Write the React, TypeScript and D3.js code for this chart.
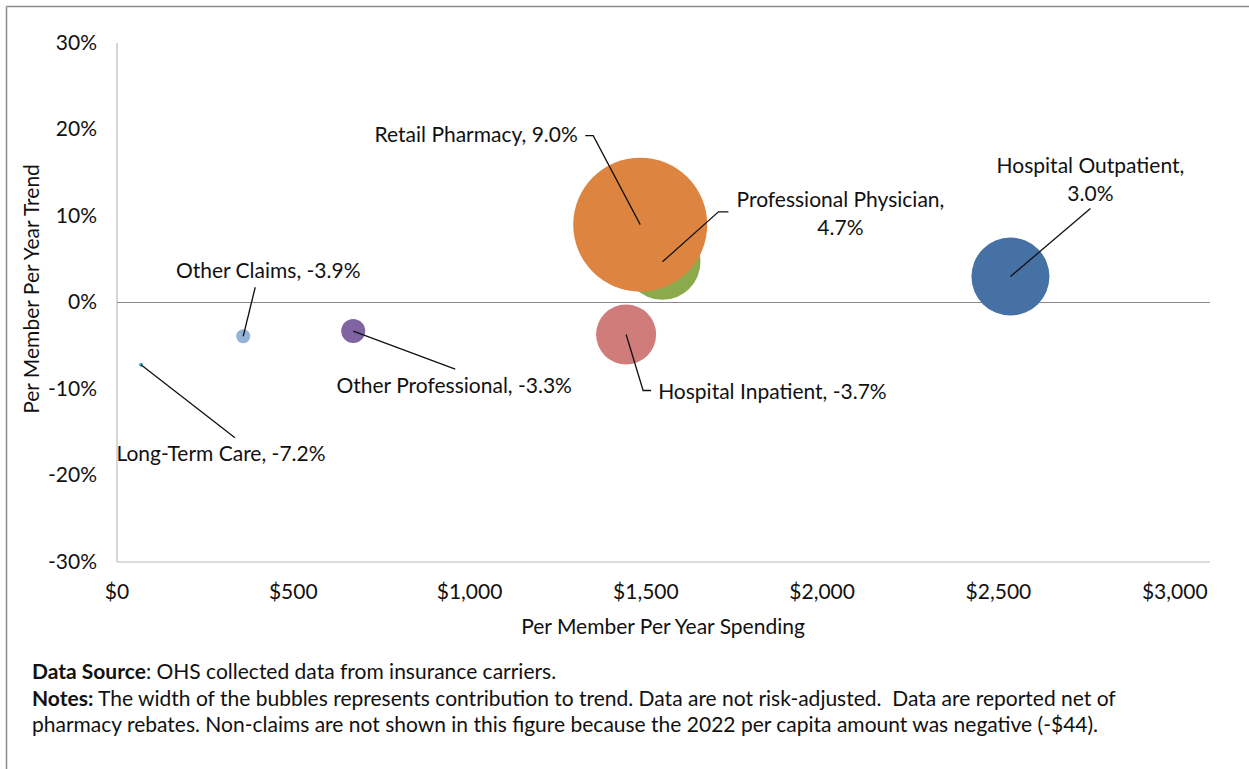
import React from 'react';
import * as d3 from 'd3';

// Service categories and their values
const categories = [
  'Long-Term Care',
  'Other Claims',
  'Other Professional',
  'Hospital Inpatient',
  'Professional Physician',
  'Retail Pharmacy',
  'Hospital Outpatient',
];
const spending = [68, 358, 670, 1444, 1547, 1484, 2534]; // per member per year, $
const trend = [-7.2, -3.9, -3.3, -3.7, 4.7, 9.0, 3.0]; // per member per year trend, %
const contribution = [0.1, 0.35, 0.6, 1.5, 1.9, 3.35, 1.95]; // bubble width (relative)

const xTicks = [0, 500, 1000, 1500, 2000, 2500, 3000];
const yTicks = [-30, -20, -10, 0, 10, 20, 30];

const colors = ['#4BACC6', '#95B3D7', '#8064A2', '#D07C7B', '#8BAA4C', '#DD8540', '#4671A5'];

// label placement: text anchor offset from bubble centre, leader-line elbow points
const labelLayout: Record<string, { lines: string[]; dx: number; dy: number; anchor: string; leader: [number, number][] }> = {
  'Long-Term Care': { lines: ['Long-Term Care, -7.2%'], dx: 80, dy: 89, anchor: 'middle', leader: [[94, 73]] },
  'Other Claims': { lines: ['Other Claims, -3.9%'], dx: 25, dy: -66, anchor: 'middle', leader: [[12, -49]] },
  'Other Professional': { lines: ['Other Professional, -3.3%'], dx: 101, dy: 55, anchor: 'middle', leader: [[102, 38]] },
  'Hospital Inpatient': { lines: ['Hospital Inpatient, -3.7%'], dx: 32, dy: 57, anchor: 'start', leader: [[17, 56], [25, 56]] },
  'Professional Physician': { lines: ['Professional Physician,', '4.7%'], dx: 178, dy: -62, anchor: 'middle', leader: [[56, -50], [66, -50]] },
  'Retail Pharmacy': { lines: ['Retail Pharmacy, 9.0%'], dx: -164, dy: -90, anchor: 'middle', leader: [[-47, -89], [-55, -89]] },
  'Hospital Outpatient': { lines: ['Hospital Outpatient,', '3.0%'], dx: 80, dy: -111, anchor: 'middle', leader: [[80, -68]] },
};

const W = 1249;
const H = 769;
const margin = { left: 117, right: 39, top: 43, bottom: 207 };
const FONT = 'Lato, "Open Sans", sans-serif';
const FS = 21;

export default function App() {
  const x = d3.scaleLinear().domain([0, 3100]).range([margin.left, W - margin.right]);
  const y = d3.scaleLinear().domain([-30, 30]).range([H - margin.bottom, margin.top]);
  const r = d3.scaleLinear().domain([0, 1]).range([0, 20]);

  const points = categories.map((c, i) => ({
    name: c,
    cx: x(spending[i]),
    cy: y(trend[i]),
    r: r(contribution[i]),
    color: colors[i],
  }));

  return (
    <svg width={W} height={H} style={{ position: 'absolute', left: 0, top: 0, background: '#fff' }} fontFamily={FONT}>
      {/* frame */}
      <line x1={6.5} y1={6.5} x2={W} y2={6.5} stroke="#8c8c8c" strokeWidth={1.5} />
      <line x1={6.5} y1={6.5} x2={6.5} y2={H} stroke="#8c8c8c" strokeWidth={1.5} />

      {/* axes */}
      <line x1={x(0)} y1={y(30)} x2={x(0)} y2={y(-30)} stroke="#c8c8c8" strokeWidth={1.5} />
      <line x1={x(0)} y1={y(-30)} x2={x(3100)} y2={y(-30)} stroke="#d0d0d0" strokeWidth={1.5} />
      <line x1={x(0)} y1={y(0)} x2={x(3100)} y2={y(0)} stroke="#8a8a8a" strokeWidth={1} />

      {yTicks.map(t => (
        <text key={'y' + t} x={97} y={y(t)} dy="0.33em" textAnchor="end" fontSize={FS} fill="#111">
          {t + '%'}
        </text>
      ))}
      {xTicks.map(t => (
        <text key={'x' + t} x={x(t)} y={y(-30) + 37} textAnchor="middle" fontSize={FS} fill="#111">
          {d3.format('$,')(t)}
        </text>
      ))}

      <text x={663} y={634} textAnchor="middle" fontSize={FS} fill="#111">Per Member Per Year Spending</text>
      <text transform={`translate(39,289) rotate(-90)`} textAnchor="middle" fontSize={FS} fill="#111">
        Per Member Per Year Trend
      </text>

      {/* bubbles (pharmacy drawn over physician) */}
      {points.map(p => (
        <circle key={p.name} cx={p.cx} cy={p.cy} r={p.r} fill={p.color} />
      ))}

      {/* labels with leader lines */}
      {points.map(p => {
        const l = labelLayout[p.name];
        const pts: [number, number][] = [[p.cx, p.cy], ...l.leader.map(([a, b]) => [p.cx + a, p.cy + b] as [number, number])];
        return (
          <g key={'l' + p.name}>
            <path d={d3.line()(pts) || ''} fill="none" stroke="#111" strokeWidth={1.3} />
            <text x={p.cx + l.dx} y={p.cy + l.dy} textAnchor={l.anchor} fontSize={FS} fill="#111">
              {l.lines.map((s, k) => (
                <tspan key={k} x={p.cx + l.dx} dy={k === 0 ? '0.35em' : 28}>{s}</tspan>
              ))}
            </text>
          </g>
        );
      })}

      {/* footer */}
      <g fontSize={FS} fill="#111">
        <text x={32} y={679}>
          <tspan fontWeight="bold">Data Source</tspan>: OHS collected data from insurance carriers.
        </text>
        <text x={32} y={706} xmlSpace="preserve">
          <tspan fontWeight="bold">Notes:</tspan>{' The width of the bubbles represents contribution to trend. Data are not risk-adjusted.  Data are reported net of'}
        </text>
        <text x={32} y={732}>
          pharmacy rebates. Non-claims are not shown in this figure because the 2022 per capita amount was negative (-$44).
        </text>
      </g>
    </svg>
  );
}
